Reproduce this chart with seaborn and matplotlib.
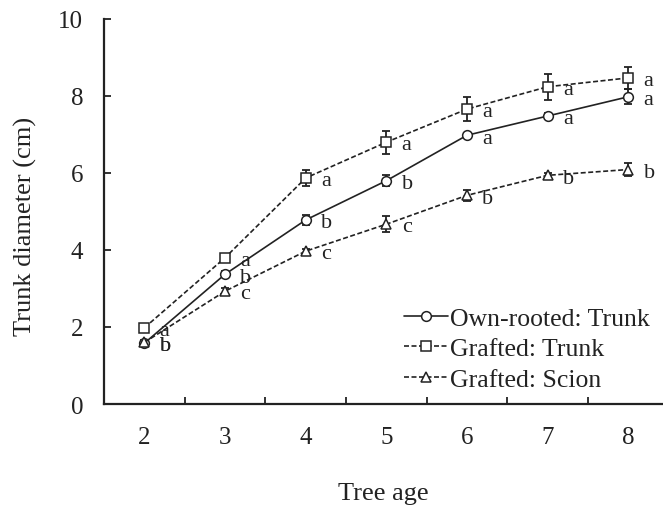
import matplotlib
matplotlib.use('Agg')
import matplotlib.pyplot as plt
import pandas as pd
import seaborn as sns

# Data
ages = [2, 3, 4, 5, 6, 7, 8]
own_trunk = [1.58, 3.37, 4.78, 5.80, 6.98, 7.48, 7.98]
own_err = [0.05, 0.08, 0.12, 0.15, 0.07, 0.08, 0.19]
own_letters = ['b', 'b', 'b', 'b', 'a', 'a', 'a']

graft_trunk = [1.98, 3.80, 5.87, 6.80, 7.66, 8.24, 8.47]
graft_trunk_err = [0.06, 0.10, 0.20, 0.30, 0.32, 0.34, 0.28]
graft_trunk_letters = ['a', 'a', 'a', 'a', 'a', 'a', 'a']

graft_scion = [1.60, 2.93, 3.97, 4.67, 5.42, 5.94, 6.09]
graft_scion_err = [0.05, 0.08, 0.05, 0.20, 0.15, 0.06, 0.17]
graft_scion_letters = ['b', 'c', 'c', 'c', 'b', 'b', 'b']

series_names = ['Own-rooted: Trunk', 'Grafted: Trunk', 'Grafted: Scion']

sns.set_style('ticks')
plt.rcParams['font.family'] = ['Liberation Serif', 'DejaVu Serif']
plt.rcParams['text.color'] = '#222222'
plt.rcParams['axes.labelcolor'] = '#222222'
plt.rcParams['xtick.color'] = '#222222'
plt.rcParams['ytick.color'] = '#222222'

df = pd.DataFrame({
    'age': ages * 3,
    'value': own_trunk + graft_trunk + graft_scion,
    'err': own_err + graft_trunk_err + graft_scion_err,
    'letter': own_letters + graft_trunk_letters + graft_scion_letters,
    'series': [n for n in series_names for _ in ages],
})

fig = plt.figure(figsize=(6.63, 5.06), dpi=100)
ax = fig.add_axes([0.157, 0.1996, 0.843, 0.7609])

styles = {
    'Own-rooted: Trunk': ('o', None),
    'Grafted: Trunk': ('s', (3, 1.5)),
    'Grafted: Scion': ('^', (3, 1.5)),
}

for name in series_names:
    sub = df[df['series'] == name]
    marker, dash = styles[name]
    ax.errorbar(sub['age'], sub['value'], yerr=sub['err'], fmt='none',
                ecolor='#222222', elinewidth=1.3, capsize=3, capthick=1.3,
                zorder=2)
    sns.lineplot(data=sub, x='age', y='value', ax=ax, color='#222222',
                 linewidth=1.2, marker=marker, markersize=7,
                 markerfacecolor='white', markeredgecolor='#222222',
                 markeredgewidth=1.1, label=name, zorder=3,
                 **({} if dash is None else {'dashes': dash}))
    for _, r in sub.iterrows():
        ax.annotate(r['letter'], (r['age'], r['value']), xytext=(11, -2),
                    textcoords='offset points', va='center', ha='left',
                    fontsize=16)

ax.set_xlim(1.5, 8.43)
ax.set_ylim(0, 10)
ax.set_xticks(ages)
ax.set_xticks([a + 0.5 for a in ages[:-1]], minor=True)
ax.tick_params(axis='x', which='major', length=0, labelsize=18, pad=16)
ax.tick_params(axis='x', which='minor', length=5, width=1.3, direction='in')
ax.set_yticks([0, 2, 4, 6, 8, 10])
ax.tick_params(axis='y', length=5, width=1.3, direction='in', labelsize=18,
               pad=15)

for s in ['top', 'right']:
    ax.spines[s].set_visible(False)
for s in ['left', 'bottom']:
    ax.spines[s].set_linewidth(1.6)
    ax.spines[s].set_color('#222222')

ax.set_xlabel('Tree age', fontsize=19, labelpad=24)
ax.set_ylabel('Trunk diameter (cm)', fontsize=19)
ax.yaxis.set_label_coords(-0.12, 0.465)

ax.legend(loc='lower right', frameon=False, fontsize=18.5, handlelength=1.7,
          handletextpad=0.1, labelspacing=0.3, borderaxespad=0.1,
          bbox_to_anchor=(1.0, 0.0))

fig.savefig('out.png', dpi=100)
